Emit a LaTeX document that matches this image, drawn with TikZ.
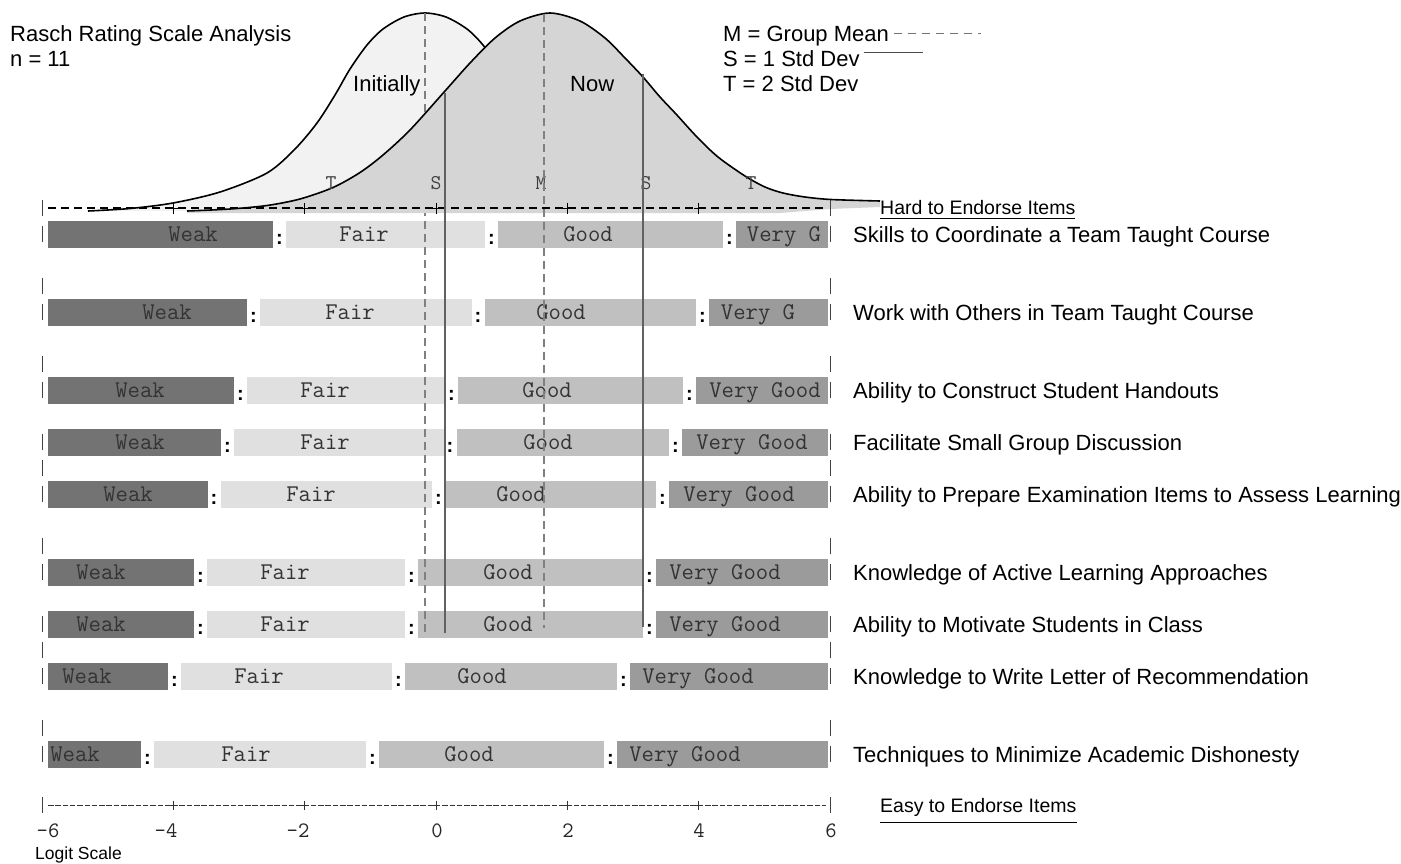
\documentclass[tikz,border=0pt]{standalone}
\usepackage{fontspec}
\setmainfont{Liberation Sans}
\usepackage{xcolor}
\usetikzlibrary{positioning,calc}

\definecolor{weakgray}{RGB}{115,115,115}
\definecolor{fairgray}{RGB}{224,224,224}
\definecolor{goodgray}{RGB}{192,192,192}
\definecolor{vgoodgray}{RGB}{155,155,155}
\definecolor{initgray}{RGB}{242,242,242}
\definecolor{nowgray}{RGB}{213,213,213}

\begin{document}
\begin{tikzpicture}[
    x=1pt, y=-1pt,
    itemtext/.style={anchor=base west, inner sep=0pt, font=\fontsize{22}{24}\selectfont},
    endtext/.style={anchor=base west, inner sep=0pt, font=\fontsize{19.5}{22}\selectfont},
    bartext/.style={anchor=base, inner sep=0pt, text=black!80, font=\ttfamily\fontsize{24}{26}\selectfont},
    colon/.style={anchor=base, inner sep=0pt, font=\bfseries\fontsize{20}{22}\selectfont},
    sdmark/.style={anchor=base, inner sep=0pt, text=black!75, font=\ttfamily\fontsize{21}{22}\selectfont},
    scalenum/.style={anchor=base, inner sep=0pt, text=black!85, font=\ttfamily\fontsize{22}{24}\selectfont},
    curve/.style={draw=black, line width=1.6pt},
    meanline/.style={black!50, line width=1.3pt, dash pattern=on 8pt off 5pt},
    sdline/.style={black!62, line width=1.5pt},
    ruler/.style={line width=1.5pt, dash pattern=on 8pt off 5pt},
    thinruler/.style={black!80, line width=1pt, dash pattern=on 5.5pt off 1.8pt},
    pipe/.style={black!75, line width=1pt}
]

% Canvas
\fill[white] (0,0) rectangle (1401,863);
\useasboundingbox (0,0) rectangle (1401,863);

% Rating bars
\foreach \y/\a/\b/\c/\tw/\tf/\tg/\tv/\vg [count=\i] in {
    234/279.5/491.5/729.5/193/364/588/784/Very G,
    312/253.5/478/702.5/167/350/561/758/Very G,
    390/240.5/451.5/689.5/140/325/547/765/Very Good,
    442/227.5/450/675.5/140/325/548/752/Very Good,
    494/214/438.5/662.5/128/311/521/739/Very Good,
    572/200.5/411.5/649.5/101/285/508/725/Very Good,
    624/200.5/411.5/649.5/101/285/508/725/Very Good,
    676/174.5/398.5/623.5/87/259/482/698/Very Good,
    754/147.5/372.5/610.5/75/246/469/685/Very Good} {
    \fill[weakgray]  (48,\y-13.5) rectangle (\a-6.5,\y+13.5);
    \fill[fairgray]  (\a+6.5,\y-13.5) rectangle (\b-6.5,\y+13.5);
    \fill[goodgray]  (\b+6.5,\y-13.5) rectangle (\c-6.5,\y+13.5);
    \fill[vgoodgray] (\c+6.5,\y-13.5) rectangle (828,\y+13.5);
    \node[bartext] (weak\i) at (\tw,\y+7.5) {Weak};
    \node[bartext] (fair\i) at (\tf,\y+7.5) {Fair};
    \node[bartext] (good\i) at (\tg,\y+7.5) {Good};
    \node[bartext] (vgood\i) at (\tv,\y+7.5) {\vg};
    \node[colon] (ca\i) at (\a,\y+10) {:};
    \node[colon] (cb\i) at (\b,\y+10) {:};
    \node[colon] (cc\i) at (\c,\y+10) {:};
    \draw[pipe] (42,\y-8) -- (42,\y+8) (830,\y-8) -- (830,\y+8);
}

% Empty text lines
\foreach \y in {286,364,468,546,650,728}
    \draw[pipe] (42,\y-8) -- (42,\y+8) (830,\y-8) -- (830,\y+8);

% Item names
\foreach \y/\txt [count=\i] in {
    234/Skills to Coordinate a Team Taught Course,
    312/Work with Others in Team Taught Course,
    390/Ability to Construct Student Handouts,
    442/Facilitate Small Group Discussion,
    494/Ability to Prepare Examination Items to Assess Learning,
    572/Knowledge of Active Learning Approaches,
    624/Ability to Motivate Students in Class,
    676/Knowledge to Write Letter of Recommendation,
    754/Techniques to Minimize Academic Dishonesty}
    \node[itemtext] (item\i) at (853,\y+8) {\txt};

% Initial distribution
\draw[curve, fill=initgray] plot[smooth] coordinates {(88,211) (130,208.5) (173,203) (220,192) (267,173) (295,149) (317,123) (335,95) (350,69) (367,45) (383,29) (404,17) (425,13) (446,17) (467,29) (483,45) (500,69) (515,95) (533,123) (555,149) (583,173) (630,192) (677,203) (720,208) (762,210)};
\draw[meanline] (425,13) -- (425,633);

% Current distribution
\fill[nowgray] plot[smooth] coordinates {(187,211) (230,209) (267,205.5) (300,199) (333,187.5) (360,172.5) (383,155) (410,130) (445,91) (470,63) (495,38) (520,21) (550,13) (580,21) (605,38) (625,58) (643,77) (660,97) (676,114) (697,137) (718,157) (745,176) (765,187) (783,193) (805,197) (831,199.5) (880,201)} -- (880,207) -- (830,209) -- (780,213) -- (187,213) -- cycle;
\draw[curve] plot[smooth] coordinates {(187,211) (230,209) (267,205.5) (300,199) (333,187.5) (360,172.5) (383,155) (410,130) (445,91) (470,63) (495,38) (520,21) (550,13) (580,21) (605,38) (625,58) (643,77) (660,97) (676,114) (697,137) (718,157) (745,176) (765,187) (783,193) (805,197) (831,199.5) (880,201)};

\node[itemtext] (initially) at (353,91) {Initially};
\node[itemtext] (now) at (570,91) {Now};

% Top scale
\draw[ruler] (48,208) -- (826,208);
\draw[pipe] (42,200) -- (42,216) (830,200) -- (830,216);
\foreach \t in {173.3,304.7,436,567.3,698.7}
    \draw[line width=1pt] (\t-4.5,208) -- (\t+4.5,208) (\t,202.5) -- (\t,213.5);
\foreach \x/\s/\n in {331/T/tlow,436/S/slow,541/M/mnow,646/S/shigh,751/T/thigh}
    \node[sdmark] (\n) at (\x,189) {\s};

% Mean and std dev lines
\draw[meanline] (544,14) -- (544,628);
\draw[sdline] (445,93) -- (445,633);
\draw[sdline] (643,74) -- (643,627);

% Bottom scale
\draw[thinruler] (48,805) -- (826,805);
\draw[pipe] (42,797) -- (42,813) (830,797) -- (830,813);
\foreach \t in {173.3,304.7,436,567.3,698.7}
    \draw[black!80, line width=0.9pt] (\t-4,805) -- (\t+4,805) (\t,800.5) -- (\t,809.5);
\foreach \x/\v [count=\i] in {48/-6,166/-4,298/-2,437/0,568/2,699/4,831/6}
    \node[scalenum] (num\i) at (\x,837) {\v};
\node[anchor=base west, inner sep=0pt, font=\fontsize{17.5}{19}\selectfont] (logit) at (35,859) {Logit Scale};

% Titles and legend
\node[itemtext] (title) at (10,41) {Rasch Rating Scale Analysis};
\node[itemtext] (count) at (10,66) {n = 11};
\node[itemtext] (legm) at (723,41) {M = Group Mean};
\node[itemtext] (legs) at (723,66) {S = 1 Std Dev};
\node[itemtext] (legt) at (723,91) {T = 2 Std Dev};
\draw[black!55, line width=1pt, dash pattern=on 8pt off 6pt] ([xshift=5pt,yshift=2pt]legm.east) -- ++(87,0);
\draw[black!70, line width=1.2pt] ([xshift=4pt,yshift=6pt]legs.east) -- ++(59,0);

% Ends of the scale
\node[endtext] (hard) at (880,214) {Hard to Endorse Items};
\draw[line width=1pt] ([yshift=-4pt]hard.base west) -- ([yshift=-4pt]hard.base east);
\node[endtext] (easy) at (880,812) {Easy to Endorse Items};
\draw[line width=1pt] ([yshift=-10pt]easy.base west) -- ([yshift=-10pt]easy.base east);

\end{tikzpicture}
\end{document}
